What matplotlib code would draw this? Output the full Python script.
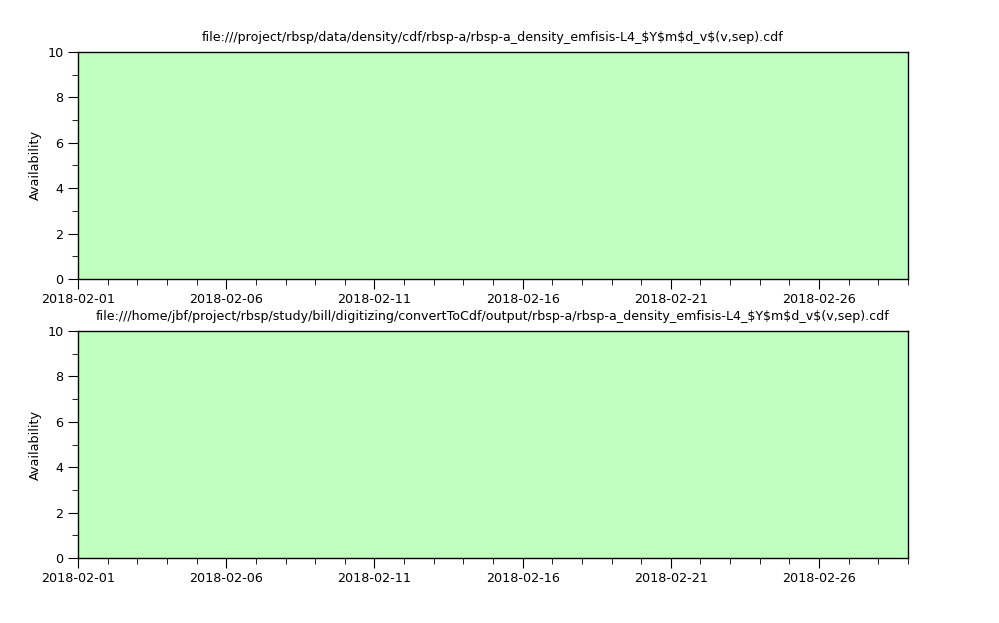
import numpy as np
import pandas as pd
import matplotlib
matplotlib.use("Agg")
import matplotlib.pyplot as plt
import matplotlib.dates as mdates

# data: daily availability, both sources fully available over Feb 2018
days = pd.date_range("2018-02-01", "2018-03-01", freq="D")
avail_top = [10] * len(days)
avail_bottom = [10] * len(days)
tick_dates = pd.to_datetime(["2018-02-01", "2018-02-06", "2018-02-11",
                             "2018-02-16", "2018-02-21", "2018-02-26"])
titles = [
    "file:///project/rbsp/data/density/cdf/rbsp-a/rbsp-a_density_emfisis-L4_$Y$m$d_v$(v,sep).cdf",
    "file:///home/jbf/project/rbsp/study/bill/digitizing/convertToCdf/output/rbsp-a/rbsp-a_density_emfisis-L4_$Y$m$d_v$(v,sep).cdf",
]

plt.rcParams["font.family"] = "DejaVu Sans"
plt.rcParams["font.size"] = 9.2
plt.rcParams["text.parse_math"] = False

fig = plt.figure(figsize=(9.99, 6.23), dpi=100)
ax1 = fig.add_axes([0.0781, 0.5522, 0.8308, 0.3644])
ax2 = fig.add_axes([0.0781, 0.1043, 0.8308, 0.3644])

for ax, vals, title in zip([ax1, ax2], [avail_top, avail_bottom], titles):
    ax.fill_between(days, 0, vals, step="post", color="#c0ffc0", linewidth=0)
    ax.set_xlim(days[0], days[-1])
    ax.set_ylim(0, 10)
    ax.set_title(title, fontsize=9.1, pad=8)
    ax.set_ylabel("Availability")
    ax.set_xticks(tick_dates)
    ax.xaxis.set_minor_locator(mdates.DayLocator())
    ax.xaxis.set_major_formatter(mdates.DateFormatter("%Y-%m-%d"))
    ax.set_yticks([0, 2, 4, 6, 8, 10])
    ax.set_yticks([1, 3, 5, 7, 9], minor=True)
    ax.tick_params(which="major", length=7, direction="out", top=False, right=False)
    ax.tick_params(which="minor", length=4, direction="out", top=False, right=False)
    ax.tick_params(axis="x", pad=3)
    for s in ax.spines.values():
        s.set_linewidth(1)

fig.savefig("out.png", dpi=100)
